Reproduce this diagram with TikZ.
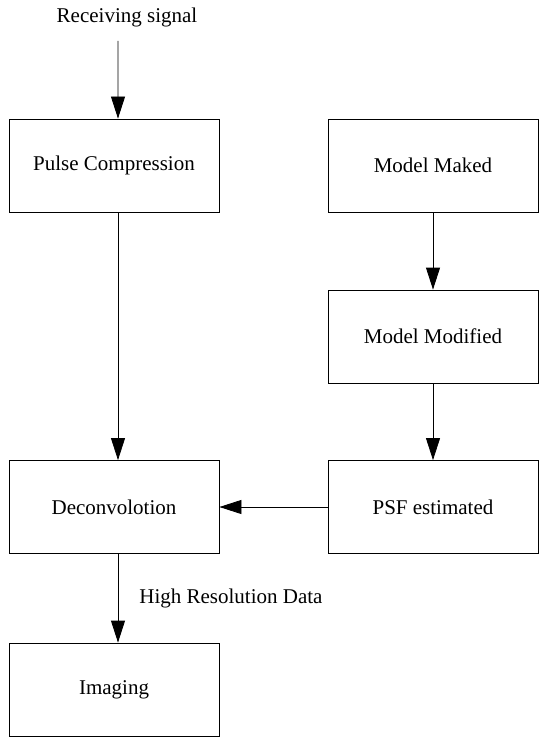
\documentclass[tikz,border=0pt]{standalone}
\usepackage{fontspec}
\setmainfont{Liberation Serif}
\usetikzlibrary{arrows.meta}
\tikzset{
  stage/.style={draw, line width=0.8bp, minimum width=210bp, minimum height=93bp, inner sep=0pt, font=\fontsize{21bp}{25bp}\selectfont},
  flow/.style={line width=0.8bp, -{Triangle[length=22bp,width=14bp]}},
  caption/.style={font=\fontsize{21bp}{25bp}\selectfont, inner sep=0pt}
}

\begin{document}
\begin{tikzpicture}[x=1bp,y=-1bp]
\useasboundingbox (0,0) rectangle (550,741);
\node[caption] (recv) at (127,17) {Receiving signal};
\coordinate (in) at (118,41);
\node[stage] (pulse) at (114,165.5) {Pulse Compression};
\node[stage] (maked) at (433,165.5) {Model Maked};
\node[stage] (modified) at (433,336.5) {Model Modified};
\node[stage] (psf) at (433,507) {PSF estimated};
\node[stage] (deconv) at (114,507) {Deconvolotion};
\node[stage] (imaging) at (114,689.5) {Imaging};
\draw[flow] (in) -- ([xshift=4bp]pulse.north);
\draw[flow] ([xshift=4bp]pulse.south) -- ([xshift=4bp]deconv.north);
\draw[flow] (maked) -- (modified);
\draw[flow] (modified) -- (psf);
\draw[flow] (psf) -- (deconv);
\draw[flow] ([xshift=4bp]deconv.south) -- ([xshift=4bp]imaging.north)
  node[caption, pos=0.5, anchor=west, xshift=21bp] {High Resolution Data};
\end{tikzpicture}
\end{document}
